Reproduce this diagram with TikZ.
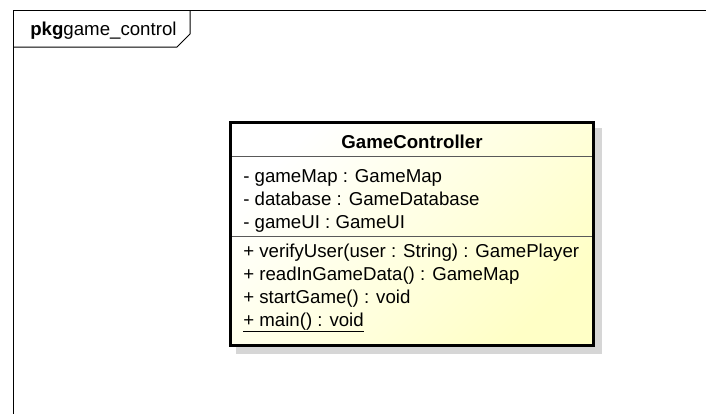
\documentclass[tikz,border=0pt]{standalone}
\usepackage{fontspec}
\setmainfont{Liberation Sans}
\usepackage{tikz}
\definecolor{umlyellow}{RGB}{255,255,198}
\definecolor{umlshadow}{RGB}{214,214,214}

\begin{document}
\begin{tikzpicture}[x=0.75pt,y=-0.75pt]
\tikzstyle{every node}+=[inner sep=0pt,font=\fontsize{14}{16}\selectfont]
\useasboundingbox (0,0) rectangle (706,414);
% package frame
\draw [black,line width=0.75pt] (706,10) -- (13,10) -- (13,414);
\draw [black,line width=0.75pt] (13,47) -- (177,47) -- (190,34) -- (190,10);
\node (pkglabel) [anchor=base west] at (30,35) {\textbf{pkg}game\_control};
% class box
\fill [umlshadow] (236,128) rectangle (602,354);
\shade [top color=white,bottom color=umlyellow,shading angle=45] (230.5,122.5) rectangle (593.5,345.5);
\draw [black,line width=2.25pt] (230.5,122.5) rectangle (593.5,345.5);
\draw [black!65,line width=0.75pt] (232,156) -- (592,156);
\draw [black!65,line width=0.75pt] (232,236) -- (592,236);
\node (clsname) [anchor=base] at (412,148) {\textbf{GameController}};
\node (attrmap) [anchor=base west] at (243,182) {- gameMap : GameMap};
\node (attrdb) [anchor=base west] at (243,205) {- database : GameDatabase};
\node (attrui) [anchor=base west] at (243,228) {- gameUI : GameUI};
\node (opverify) [anchor=base west] at (243,257) {+ verifyUser(user : String) : GamePlayer};
\node (opread) [anchor=base west] at (243,280) {+ readInGameData() : GameMap};
\node (opstart) [anchor=base west] at (243,303) {+ startGame() : void};
\node (opmain) [anchor=base west] at (243,326) {\underline{+ main() : void}};
\end{tikzpicture}
\end{document}
